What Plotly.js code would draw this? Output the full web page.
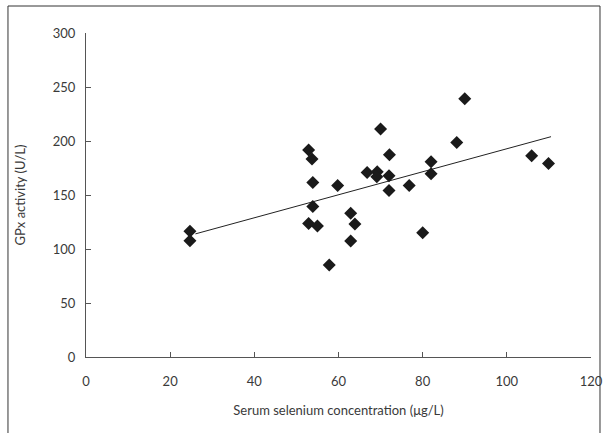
<!DOCTYPE html>
<html>
<head>
<meta charset="utf-8">
<script src="https://cdn.plot.ly/plotly-3.0.1.min.js"></script>
<style>html,body{margin:0;padding:0;background:#fff;}#chart{width:606px;height:433px;}</style>
</head>
<body>
<div id="chart"></div>
<script>
// Serum selenium (µg/L) vs GPx activity (U/L)
var selenium = [24.7, 24.7, 52.9, 53.7, 53.9, 53.9, 52.9, 55.0, 57.8, 59.8, 62.9, 62.9, 63.9, 66.8,
                69.2, 69.1, 70.0, 72.1, 72.0, 72.0, 76.8, 80.0, 82.0, 82.0, 88.1, 90.0, 105.9, 109.9];
var gpx      = [116.5, 107.7, 191.7, 183.3, 161.6, 139.3, 123.7, 121.3, 85.2, 158.9, 133.0, 107.4, 123.1, 170.9,
                171.5, 167.0, 211.0, 187.2, 167.9, 154.1, 158.9, 115.0, 180.9, 169.7, 198.6, 239.2, 186.3, 179.1];
// Trend line end points
var trendX = [26, 110.5];
var trendY = [114, 204];
var xTicks = [0, 20, 40, 60, 80, 100, 120];
var yTicks = [0, 50, 100, 150, 200, 250, 300];

var fontFam = 'Lato, "Open Sans", sans-serif';
var traces = [
  {x: trendX, y: trendY, mode: 'lines', type: 'scatter', line: {color: '#222', width: 1}, hoverinfo: 'skip'},
  {x: selenium, y: gpx, mode: 'markers', type: 'scatter',
   marker: {symbol: 'diamond', size: 10, color: '#1a1a1a'}}
];
var layout = {
  width: 606, height: 433,
  margin: {l: 86, r: 15, t: 33, b: 76},
  showlegend: false,
  paper_bgcolor: '#fff', plot_bgcolor: '#fff',
  font: {family: fontFam, size: 13, color: '#3a3a3a'},
  xaxis: {
    range: [0, 120], tickvals: xTicks, ticktext: xTicks.map(String),
    showgrid: false, zeroline: false, showline: true, linecolor: '#555', linewidth: 1,
    ticks: 'inside', ticklen: 5, tickcolor: '#555', ticklabelstandoff: 12,
    title: {text: 'Serum selenium concentration (μg/L)', font: {family: fontFam, size: 13, color: '#3a3a3a'}, standoff: 18},
    automargin: false, fixedrange: true
  },
  yaxis: {
    range: [0, 300], tickvals: yTicks, ticktext: yTicks.map(String),
    showgrid: false, zeroline: false, showline: true, linecolor: '#555', linewidth: 1,
    ticks: 'inside', ticklen: 5, tickcolor: '#555', ticklabelstandoff: 7,
    title: {text: 'GPx activity (U/L)', font: {family: fontFam, size: 13, color: '#3a3a3a'}, standoff: 24},
    automargin: false, fixedrange: true
  },
  shapes: [{type: 'rect', xref: 'paper', yref: 'paper', x0: -0.1545, x1: 1.0178, y0: -0.3, y1: 1.0833,
            line: {color: '#333', width: 1}, fillcolor: 'rgba(0,0,0,0)'}]
};
Plotly.newPlot('chart', traces, layout, {displayModeBar: false, staticPlot: true});
</script>
</body>
</html>
